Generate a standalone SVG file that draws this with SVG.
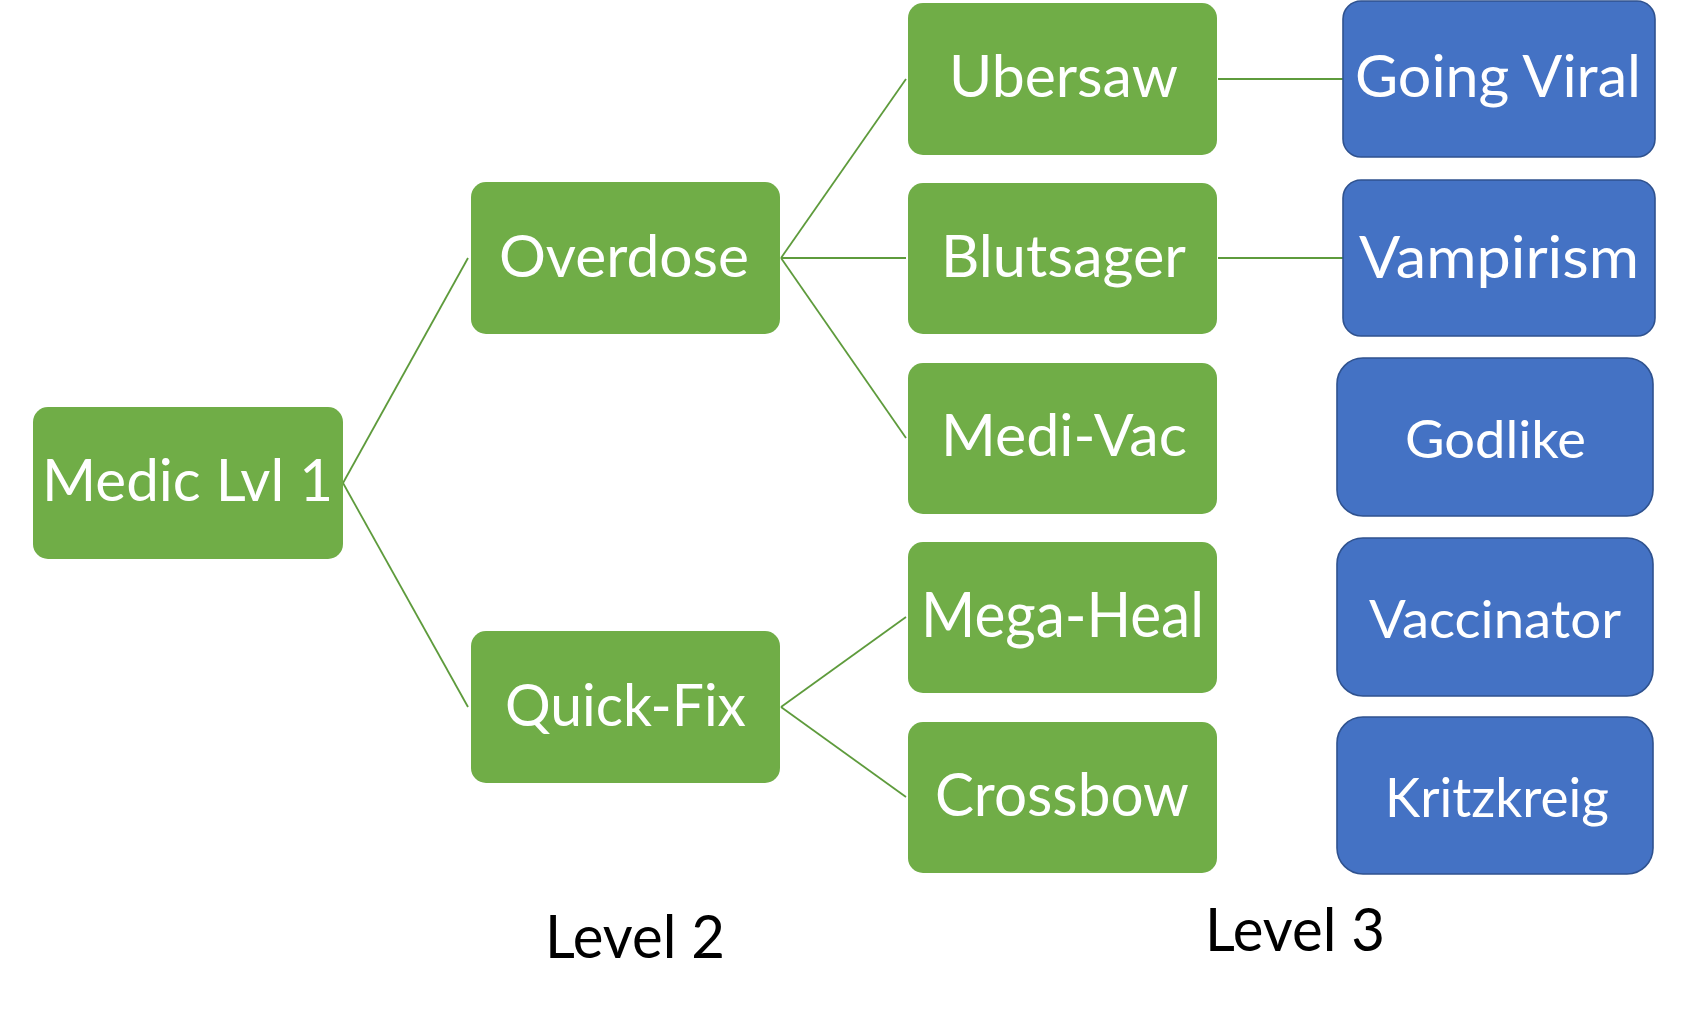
<svg xmlns="http://www.w3.org/2000/svg" width="1683" height="1016" viewBox="0 0 1683 1016">
<style>
.g{fill:#70AD47}
.b{fill:#4472C4;stroke:#2F528F;stroke-width:1.6}
.t{font-family:Lato,"Open Sans","Liberation Sans",sans-serif;fill:#FFFFFF}
.k{font-family:Lato,"Open Sans","Liberation Sans",sans-serif;fill:#000000}
.c line{stroke:#5E9B3C;stroke-width:1.8}
</style>
<rect width="1683" height="1016" fill="#FFFFFF"/>
<g class="c" id="connectors">
<line x1="343" y1="483" x2="468" y2="258"/>
<line x1="343" y1="483" x2="468" y2="707"/>
<line x1="781" y1="258" x2="906" y2="79"/>
<line x1="781" y1="258" x2="906" y2="258"/>
<line x1="781" y1="258" x2="906" y2="438"/>
<line x1="781" y1="707" x2="906" y2="617"/>
<line x1="781" y1="707" x2="906" y2="797"/>
<line x1="1218" y1="79" x2="1343" y2="79"/>
<line x1="1218" y1="258" x2="1343" y2="258"/>
</g>
<g id="medic"><rect class="g" x="33" y="407" width="310" height="152" rx="15"/><text class="t" x="42" y="501" font-size="58" textLength="291" lengthAdjust="spacingAndGlyphs">Medic Lvl 1</text></g>
<g id="overdose"><rect class="g" x="471" y="182" width="309" height="152" rx="15"/><text class="t" x="499" y="277" font-size="58" textLength="250" lengthAdjust="spacingAndGlyphs">Overdose</text></g>
<g id="quickfix"><rect class="g" x="471" y="631" width="309" height="152" rx="15"/><text class="t" x="505" y="726" font-size="58" textLength="241" lengthAdjust="spacingAndGlyphs">Quick-Fix</text></g>
<g id="ubersaw"><rect class="g" x="908" y="3" width="309" height="152" rx="15"/><text class="t" x="949" y="97" font-size="58" textLength="229" lengthAdjust="spacingAndGlyphs">Ubersaw</text></g>
<g id="blutsager"><rect class="g" x="908" y="183" width="309" height="151" rx="15"/><text class="t" x="941" y="277" font-size="58" textLength="245" lengthAdjust="spacingAndGlyphs">Blutsager</text></g>
<g id="medivac"><rect class="g" x="908" y="363" width="309" height="151" rx="15"/><text class="t" x="941" y="456" font-size="58" textLength="246" lengthAdjust="spacingAndGlyphs">Medi-Vac</text></g>
<g id="megaheal"><rect class="g" x="908" y="542" width="309" height="151" rx="15"/><text class="t" x="921" y="637" font-size="61" textLength="283" lengthAdjust="spacingAndGlyphs">Mega-Heal</text></g>
<g id="crossbow"><rect class="g" x="908" y="722" width="309" height="151" rx="15"/><text class="t" x="935" y="816" font-size="60" textLength="254" lengthAdjust="spacingAndGlyphs">Crossbow</text></g>
<g id="goingviral"><rect class="b" x="1343" y="1" width="312" height="156" rx="18"/><text class="t" x="1355" y="97" font-size="58" textLength="286" lengthAdjust="spacingAndGlyphs">Going Viral</text></g>
<g id="vampirism"><rect class="b" x="1343" y="180" width="312" height="156" rx="18"/><text class="t" x="1359" y="278" font-size="58" textLength="280" lengthAdjust="spacingAndGlyphs">Vampirism</text></g>
<g id="godlike"><rect class="b" x="1337" y="358" width="316" height="158" rx="26"/><text class="t" x="1405" y="458" font-size="53" textLength="181" lengthAdjust="spacingAndGlyphs">Godlike</text></g>
<g id="vaccinator"><rect class="b" x="1337" y="538" width="316" height="158" rx="26"/><text class="t" x="1369" y="638" font-size="53" textLength="252" lengthAdjust="spacingAndGlyphs">Vaccinator</text></g>
<g id="kritzkreig"><rect class="b" x="1337" y="717" width="316" height="157" rx="26"/><text class="t" x="1385" y="817" font-size="54" textLength="224" lengthAdjust="spacingAndGlyphs">Kritzkreig</text></g>
<g id="level2"><text class="k" x="545" y="958" font-size="60" textLength="180" lengthAdjust="spacingAndGlyphs">Level 2</text></g>
<g id="level3"><text class="k" x="1205" y="951" font-size="60" textLength="180" lengthAdjust="spacingAndGlyphs">Level 3</text></g>
</svg>
